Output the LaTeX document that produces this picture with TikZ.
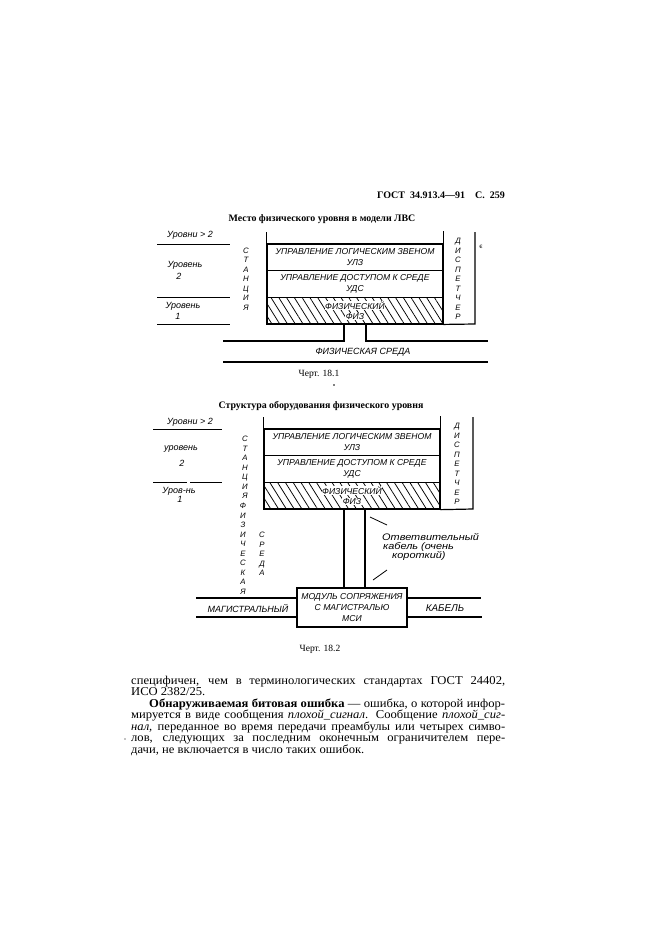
\documentclass[tikz,border=0pt]{standalone}
\usepackage{fontspec}
\setmainfont{Liberation Serif}
\newfontfamily\bodyfont{Liberation Serif}[FakeStretch=1.05]
\newfontfamily\hand{Liberation Sans}
\newfontfamily\handwide{Liberation Sans}[FakeStretch=1.15]
\newfontfamily\symfont{DejaVu Sans}
\usetikzlibrary{patterns.meta}
\newcommand{\wbox}[1]{{\setlength{\fboxsep}{0.6pt}\colorbox{white}{#1}}}
\begin{document}
\begin{tikzpicture}[x=1pt,y=-1pt,
  ln/.style={line width=1.2pt},
  thinln/.style={line width=0.8pt},
  layerbox/.style={draw,line width=1.2pt,minimum width=176pt,minimum height=26.7pt,inner sep=0pt,align=center,
     font=\hand\itshape\fontsize{8.6}{11}\selectfont},
  hatched/.style={layerbox,pattern={Lines[angle=-58,distance=6.6pt,line width=0.75pt]}},
  handtxt/.style={inner sep=0pt,align=center,font=\hand\itshape\fontsize{9}{11}\selectfont},
  notetxt/.style={inner sep=0pt,anchor=north west,align=left,font=\handwide\itshape\fontsize{9.5}{9}\selectfont},
  vert/.style={inner sep=0pt,align=center,font=\hand\itshape\fontsize{7.8}{9.5}\selectfont},
  body/.style={inner sep=0pt,anchor=base west,font=\bodyfont\fontsize{12}{11.5}\selectfont},
  captxt/.style={inner sep=0pt,anchor=base,font=\fontsize{9.5}{11}\selectfont},
  ttl/.style={inner sep=0pt,anchor=base,font=\bfseries\fontsize{9.9}{11}\selectfont},
]
\useasboundingbox (0,0) rectangle (661,935);
\fill[white] (0,0) rectangle (661,935);

% ---------- header ----------
\node[inner sep=0pt,anchor=base west,font=\bfseries\fontsize{10}{12}\selectfont] (hdr) at (377,198)
  {ГОСТ\ \ 34.913.4—91\ \ \ \ С.\ \ 259};

% ================= Figure 18.1 =================
\node[ttl] (t1) at (322,221) {Место физического уровня в модели ЛВС};

\node[layerbox] (ulz1) at (355,257.3) {УПРАВЛЕНИЕ ЛОГИЧЕСКИМ ЗВЕНОМ\\УЛЗ};
\node[layerbox] (uds1) at (355,284) {УПРАВЛЕНИЕ ДОСТУПОМ К СРЕДЕ\\УДС};
\node[hatched] (fiz1) at (355,310.7) {\wbox{ФИЗИЧЕСКИЙ}\\[-1.5pt]\wbox{ФИЗ}};
\draw[ln] (ulz1.north west) -- ++(0,-11);
\draw[ln] (ulz1.north east) -- ++(0,-12);
\coordinate (d1t) at (475,232);
\coordinate (d1b) at (475,324);
\draw[ln] (d1t) -- (d1b) -- (fiz1.south east);

\node[vert] (st1) at (246,279) {С\\Т\\А\\Н\\Ц\\И\\Я};
\node[vert] (dp1) at (458,279) {Д\\И\\С\\П\\Е\\Т\\Ч\\Е\\Р};
\node[inner sep=0pt,font=\symfont\fontsize{6}{7}\selectfont] (mk1) at (481,247) {є};

% levels
\node[handtxt] (l1a) at (190,235) {Уровни > 2};
\coordinate (l1a1) at (157,244); \coordinate (l1a2) at (230,244);
\draw[thinln] (l1a1) -- (l1a2);
\node[handtxt] (l1b) at (185,265) {Уровень};
\node[handtxt] (l1c) at (179,276) {2};
\coordinate (l1b1) at (157,297); \coordinate (l1b2) at (230,297);
\draw[thinln] (l1b1) -- (l1b2);
\node[handtxt] (l1d) at (183,306) {Уровень};
\node[handtxt] (l1e) at (178,316) {1};
\coordinate (l1c1) at (157,324); \coordinate (l1c2) at (230,324);
\draw[thinln] (l1c1) -- (l1c2);

% physical medium
\coordinate (m1a) at (344,324); \coordinate (m1b) at (366,324);
\coordinate (m1l) at (223,341); \coordinate (m1r) at (488,341);
\draw[ln] (m1l) -- (m1a |- m1l) -- (m1a);
\draw[ln] (m1b) -- (m1b |- m1r) -- (m1r);
\coordinate (m1l2) at (223,362); \coordinate (m1r2) at (488,362);
\draw[ln] (m1l2) -- (m1r2);
\node[handtxt] (med1) at (363,352) {ФИЗИЧЕСКАЯ СРЕДА};

\node[captxt] (c1) at (319,376) {Черт. 18.1};
\fill (334,385) circle (0.8pt);

% ================= Figure 18.2 =================
\node[ttl] (t2) at (321,408) {Структура оборудования физического уровня};

\node[layerbox] (ulz2) at (352,442.3) {УПРАВЛЕНИЕ ЛОГИЧЕСКИМ ЗВЕНОМ\\УЛЗ};
\node[layerbox] (uds2) at (352,469) {УПРАВЛЕНИЕ ДОСТУПОМ К СРЕДЕ\\УДС};
\node[hatched] (fiz2) at (352,495.7) {\wbox{ФИЗИЧЕСКИЙ}\\[-1.5pt]\wbox{ФИЗ}};
\draw[ln] (ulz2.north west) -- ++(0,-11);
\draw[ln] (ulz2.north east) -- ++(0,-12);
\coordinate (d2t) at (473,417);
\coordinate (d2b) at (473,509);
\draw[ln] (d2t) -- (d2b) -- (fiz2.south east);

\node[vert] (st2) at (245,467.5) {С\\Т\\А\\Н\\Ц\\И\\Я};
\node[vert] (fs2) at (243,549) {Ф\\И\\З\\И\\Ч\\Е\\С\\К\\А\\Я};
\node[vert] (sr2) at (262,554) {С\\Р\\Е\\Д\\А};
\node[vert] (dp2) at (457,464) {Д\\И\\С\\П\\Е\\Т\\Ч\\Е\\Р};

% levels
\node[handtxt] (l2a) at (190,422) {Уровни > 2};
\coordinate (l2a1) at (153,429); \coordinate (l2a2) at (222,429);
\draw[thinln] (l2a1) -- (l2a2);
\node[handtxt] (l2b) at (181,449) {уровень};
\node[handtxt] (l2c) at (182,463) {2};
\coordinate (l2b1) at (153,482); \coordinate (l2b2) at (187,482);
\coordinate (l2b3) at (190,482); \coordinate (l2b4) at (222,482);
\draw[thinln] (l2b1) -- (l2b2);
\draw[thinln] (l2b3) -- (l2b4);
\node[handtxt] (l2d) at (179,491) {Уров-нь};
\node[handtxt] (l2e) at (180,499) {1};

% module and cables
\node[draw,ln,minimum width=110pt,minimum height=39pt,inner sep=0pt,align=center,
      font=\hand\itshape\fontsize{8.6}{11}\selectfont] (msi) at (352,607.5)
      {МОДУЛЬ СОПРЯЖЕНИЯ\\С МАГИСТРАЛЬЮ\\МСИ};
\coordinate (v2a) at (344,509); \coordinate (v2b) at (365,509);
\draw[ln] (v2a) -- (v2a |- msi.north);
\draw[ln] (v2b) -- (v2b |- msi.north);
\coordinate (k1) at (196,598); \coordinate (k2) at (196,617);
\coordinate (k3) at (481,598); \coordinate (k4) at (482,617);
\draw[ln] (k1) -- (msi.west |- k1);
\draw[ln] (k2) -- (msi.west |- k2);
\draw[ln] (msi.east |- k3) -- (k3);
\draw[ln] (msi.east |- k4) -- (k4);
\node[handtxt] (mag) at (248,608) {МАГИСТРАЛЬНЫЙ};
\node[handtxt,font=\hand\itshape\fontsize{9.8}{11}\selectfont] (kab) at (445,608) {КАБЕЛЬ};

% drop cable label
\node[notetxt] (ot) at (382,533) {Ответвительный\\\hspace{1pt}кабель (очень\\\hspace{10pt}короткий)};
\coordinate (s1a) at (370,517); \coordinate (s1b) at (387,525);
\coordinate (s2a) at (373,580); \coordinate (s2b) at (387,570);
\draw[thinln] (s1a) -- (s1b);
\draw[thinln] (s2a) -- (s2b);

\node[captxt] (c2) at (320,651) {Черт. 18.2};

% ================= body text =================
\node[body] (p1) at (131,684) {\makebox[374pt][s]{специфичен, чем в терминологических стандартах ГОСТ 24402,}};
\node[body] (p2) at (131,695.5) {ИСО 2382/25.};
\node[body] (p3) at (149,707) {\makebox[356pt][s]{\textbf{Обнаруживаемая битовая ошибка} — ошибка, о которой инфор-}};
\node[body] (p4) at (131,718.5) {\makebox[374pt][s]{мируется в виде сообщения \textit{плохой\_сигнал}. Сообщение \textit{плохой\_сиг-}}};
\node[body] (p5) at (131,730) {\makebox[374pt][s]{\textit{нал,} переданное во время передачи преамбулы или четырех симво-}};
\node[body] (p6) at (131,741.5) {\makebox[374pt][s]{лов, следующих за последним оконечным ограничителем пере-}};
\node[body] (p7) at (131,753) {дачи, не включается в число таких ошибок.};
\fill (125,739) circle (0.6pt);
\end{tikzpicture}
\end{document}
